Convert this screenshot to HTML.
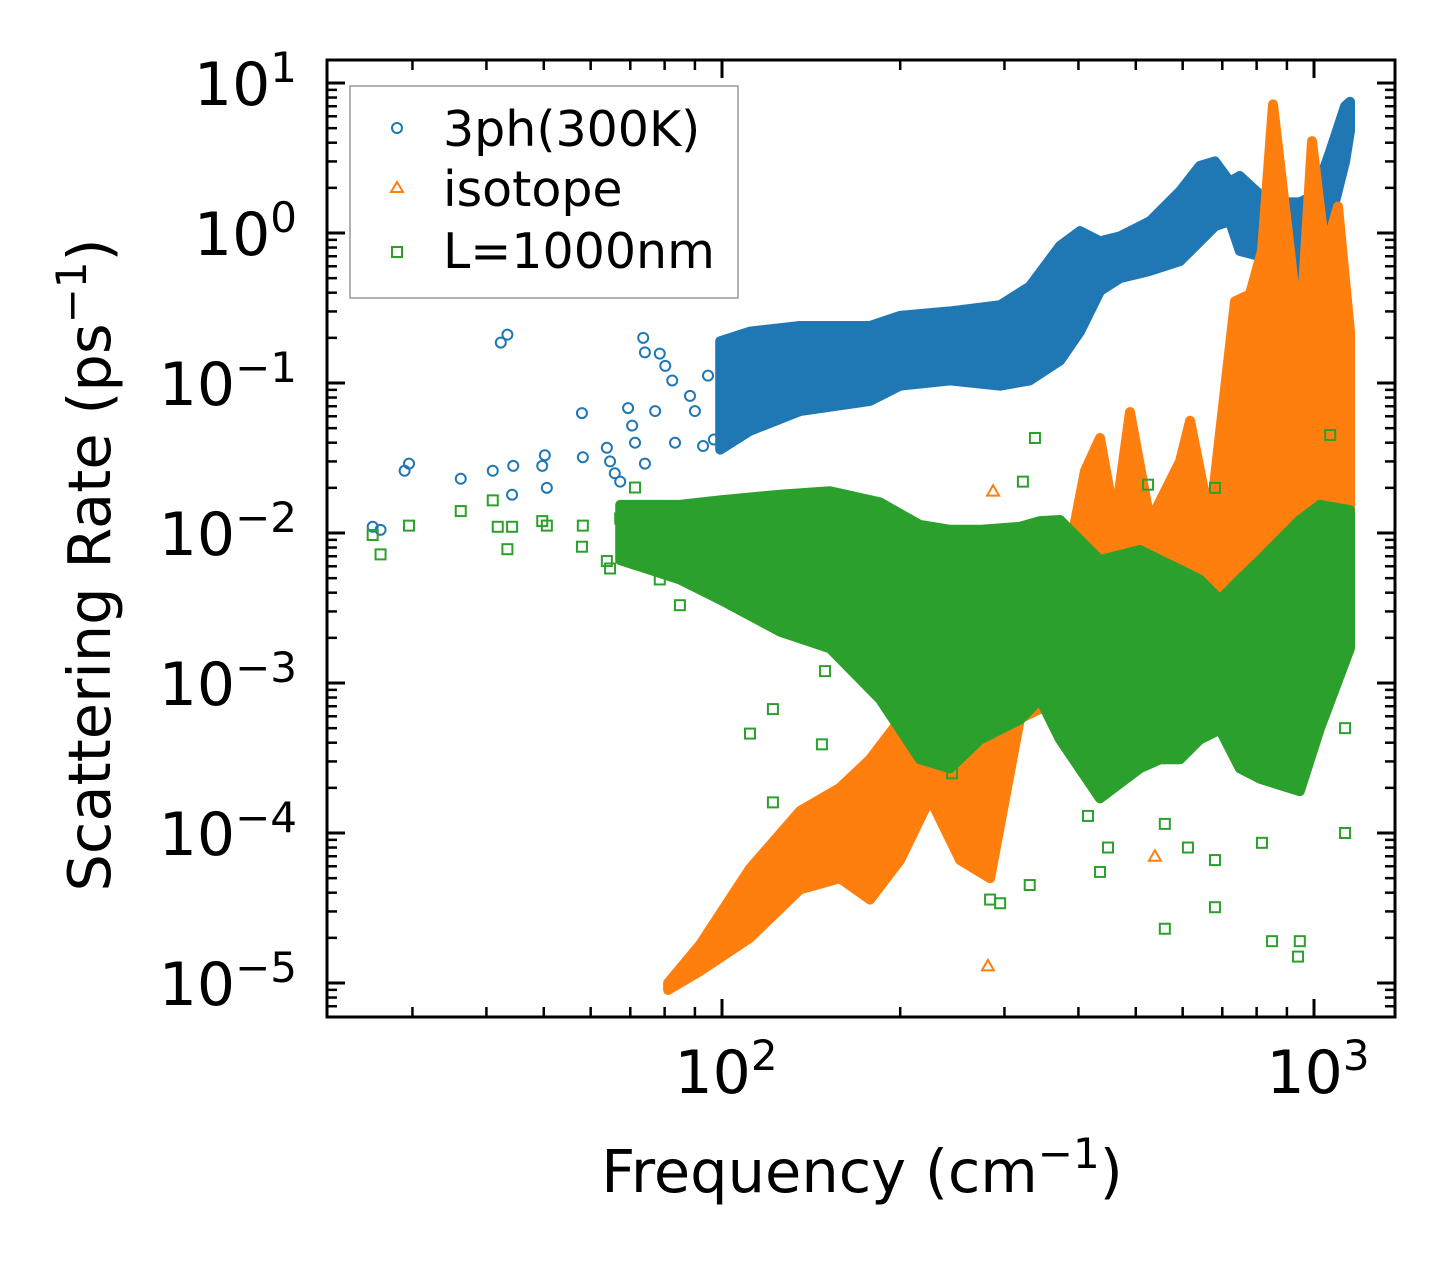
<!DOCTYPE html>
<html><head><meta charset="utf-8"><style>
html,body{margin:0;padding:0;background:#fff;}
svg{display:block;font-family:"DejaVu Sans","Liberation Sans",sans-serif;}
</style></head><body>
<svg id="chart" width="1455" height="1267" viewBox="0 0 1455 1267" xmlns="http://www.w3.org/2000/svg">
<rect x="0" y="0" width="1455" height="1267" fill="#fff"/>
<g id="marks"></g>
<g id="axes"></g>
<g id="legend">
<rect x="350" y="86" width="388" height="212" fill="#fff" fill-opacity="0.8" stroke="#999" stroke-width="1.5"/>
<circle cx="397" cy="128" r="5" fill="none" stroke="#1f77b4" stroke-width="2"/>
<text x="443" y="146" font-size="49">3ph(300K)</text>
<polygon points="397,182 403,192 391,192" fill="none" stroke="#ff7f0e" stroke-width="2"/>
<text x="443" y="206" font-size="49">isotope</text>
<rect x="392" y="247" width="10" height="10" fill="none" stroke="#2ca02c" stroke-width="2"/>
<text x="443" y="268" font-size="49">L=1000nm</text>
</g>
<text x="862" y="1192" font-size="59" text-anchor="middle">Frequency (cm<tspan font-size="42" dy="-24">−1</tspan><tspan dy="24">)</tspan></text>
<text transform="translate(110,565) rotate(-90)" font-size="59" text-anchor="middle">Scattering Rate (ps<tspan font-size="42" dy="-24">−1</tspan><tspan dy="24">)</tspan></text>
</svg>
<script>
// ---- data ----
const blueBandFreq = [99.3,111.5,135.4,177.8,199.9,242.8,295,331,372.4,402.4,435,470.3,528.6,593.7,641.7,680.3,720.8,749.3,810.7,877,946.3,1003,1065,1128.4,1150.1];
const blueBandLo   = [0.036,0.048,0.065,0.076,0.096,0.104,0.096,0.104,0.141,0.22,0.41,0.50,0.56,0.65,0.88,1.11,1.2,0.76,0.70,0.56,0.35,0.70,1.2,3.0,4.8];
const blueBandHi   = [0.19,0.22,0.24,0.24,0.28,0.30,0.33,0.44,0.82,1.03,0.88,0.95,1.2,1.9,2.8,3.0,2.2,2.4,1.8,1.6,1.6,1.8,3.5,7.0,7.5];
const bluePtFreq = [25.7,26.5,29.1,29.6,36.2,41.0,42.3,43.4,44.2,44.4,49.7,50.2,50.6,58.0,58.2,63.9,64.7,65.9,67.3,69.4,70.5,71.3,73.6,74.1,78.5,80.2,82.4,74.1,77.1,83.3,88.3,90.0,92.9,94.7,96.9];
const bluePtVal  = [0.011,0.0105,0.026,0.029,0.023,0.026,0.186,0.21,0.018,0.028,0.028,0.033,0.02,0.063,0.032,0.037,0.03,0.025,0.022,0.068,0.052,0.04,0.2,0.16,0.157,0.13,0.104,0.029,0.065,0.04,0.082,0.065,0.038,0.112,0.042];

const orangeBandFreq = [81.1,91.8,111.5,135.4,158.2,177.8,199.9,224.6,252.5,283.7,318.7,372.4,410.3,435,461.2,488.9,528.6,593.7,617.5,667.3,735.5,779.2,816.8,852.5,910.7,946.3,992.2,1044.3,1098,1150.1];
const orangeBandHi   = [1.0e-5,1.8e-5,5.8e-5,1.4e-4,2e-4,3.1e-4,5.7e-4,1.0e-3,1.9e-3,1.9e-3,2.6e-3,3.6e-3,0.026,0.043,0.012,0.064,0.012,0.03,0.056,0.012,0.35,0.39,0.76,7.2,0.76,0.19,4.1,0.76,1.5,0.22];
const orangeBandLo   = [9e-6,1.2e-5,2e-5,4.2e-5,5e-5,3.6e-5,6.6e-5,1.7e-4,6.6e-5,5e-5,5.8e-4,7.8e-4,1e-3,1e-3,1e-3,1e-3,1e-3,1e-3,1e-3,1e-3,1e-3,1e-3,2e-3,3.6e-3,2e-3,2e-3,3e-3,3e-3,3e-3,0.01];
const orangePtFreq = [287,281.3,538.6,1128.4,1128.4,1128.4];
const orangePtVal  = [0.019,1.3e-5,7e-5,0.096,0.14,0.26];

const greenBandFreq = [67.3,84.9,99.3,125.3,152.2,184.9,216,242.8,272.9,318.7,344.5,372.4,435,508.2,549.5,593.7,641.7,693.5,749.3,810.7,946.3,1023.5,1150.1];
const greenBandLo   = [0.0066,0.0049,0.0036,0.0022,0.0017,7.8e-4,3.1e-4,2.7e-4,4.2e-4,5.7e-4,7.8e-4,4.2e-4,1.7e-4,2.7e-4,3.1e-4,3.1e-4,4.2e-4,4.9e-4,2.7e-4,2.3e-4,1.9e-4,5e-4,0.0017];
const greenBandHi   = [0.0154,0.0154,0.0165,0.018,0.019,0.016,0.0113,0.0105,0.0105,0.011,0.012,0.0122,0.0066,0.0077,0.0066,0.0057,0.0049,0.0036,0.0049,0.0066,0.0122,0.0154,0.0142];
const greenPtFreq = [25.7,26.5,29.6,36.2,41.0,41.8,43.4,44.2,49.7,50.6,58.0,58.2,63.9,64.7,67.3,71.3,78.5,80.2,84.9,111.5,121.9,121.9,147.5,149.3,244.7,283.7,295,331,337.8,415.2,435,448.8,559.8,559.8,612.4,680.3,680.3,816.8,849.5,939.6,946.3,1128.4,1128.4,1065,680.3,322.3,524.4];
const greenPtVal  = [0.0097,0.0072,0.0112,0.014,0.0165,0.011,0.0078,0.011,0.012,0.0112,0.0081,0.0112,0.0065,0.0058,0.0125,0.0201,0.0049,0.0055,0.0033,4.6e-4,6.7e-4,1.6e-4,3.9e-4,1.2e-3,2.5e-4,3.6e-5,3.4e-5,4.5e-5,0.043,1.3e-4,5.5e-5,8e-5,2.3e-5,1.15e-4,8e-5,6.6e-5,3.2e-5,8.6e-5,1.9e-5,1.5e-5,1.9e-5,1e-4,5e-4,0.045,0.02,0.022,0.021];

const xTickVals = [100,1000];
const xTickLabels = ["2","3"];
const yTickVals = [1e1,1e0,1e-1,1e-2,1e-3,1e-4,1e-5];
const yTickLabels = ["1","0","−1","−2","−3","−4","−5"];

// ---- scales ----
const PL=327, PR=1395, PT=60, PB=1017;
const X2=722, DX=592, Y0=233, DY=150;
function xs(f){return X2+(Math.log10(f)-2)*DX;}
function ys(v){return Y0-Math.log10(v)*DY;}
const NS="http://www.w3.org/2000/svg";
const marks=document.getElementById('marks');
const axes=document.getElementById('axes');
function mk(tag,attrs,parent){const e=document.createElementNS(NS,tag);for(const k in attrs)e.setAttribute(k,attrs[k]);parent.appendChild(e);return e;}

const clip=mk('clipPath',{id:'pc'},marks);
mk('rect',{x:PL,y:PT,width:PR-PL,height:PB-PT},clip);
marks.setAttribute('clip-path','url(#pc)');

function band(fr,lo,hi,color,name){
  let pts=[];
  for(let i=0;i<fr.length;i++)pts.push(xs(fr[i]).toFixed(1)+','+ys(hi[i]).toFixed(1));
  for(let i=fr.length-1;i>=0;i--)pts.push(xs(fr[i]).toFixed(1)+','+ys(lo[i]).toFixed(1));
  const p=mk('polygon',{points:pts.join(' '),fill:color,stroke:color,'stroke-width':'10','stroke-linejoin':'round'},marks);
  
  
}
function marker(type,f,v,color,name){
  const x=xs(f),y=ys(v);let e;
  if(type==='o')e=mk('circle',{cx:x,cy:y,r:5,fill:'none',stroke:color,'stroke-width':2},marks);
  else if(type==='^')e=mk('polygon',{points:`${x},${y-6} ${x+6},${y+4.5} ${x-6},${y+4.5}`,fill:'none',stroke:color,'stroke-width':2},marks);
  else e=mk('rect',{x:x-5,y:y-5,width:10,height:10,fill:'none',stroke:color,'stroke-width':2},marks);
  
  
}
const CB='#1f77b4',CO='#ff7f0e',CG='#2ca02c';
band(blueBandFreq,blueBandLo,blueBandHi,CB,'3ph-dense-band');
for(let i=0;i<bluePtFreq.length;i++)marker('o',bluePtFreq[i],bluePtVal[i],CB,'3ph-point');
band(orangeBandFreq,orangeBandLo,orangeBandHi,CO,'isotope-dense-band');
for(let i=0;i<orangePtFreq.length;i++)marker('^',orangePtFreq[i],orangePtVal[i],CO,'isotope-point');
band(greenBandFreq,greenBandLo,greenBandHi,CG,'boundary-dense-band');
for(let i=0;i<greenPtFreq.length;i++)marker('s',greenPtFreq[i],greenPtVal[i],CG,'boundary-point');

// ---- axes ----
const frame=mk('rect',{x:PL,y:PT,width:PR-PL,height:PB-PT,fill:'none',stroke:'#000','stroke-width':3},axes);


function tick(x1,y1,x2,y2,w){mk('line',{x1,y1,x2,y2,stroke:'#000','stroke-width':w},axes);}
for(let d=1;d<=3;d++){for(let m=1;m<=9;m++){const f=m*Math.pow(10,d);const x=xs(f);if(x<=PL+1||x>=PR-1)continue;
  const L=(m===1)?18:10,w=(m===1)?3:2.5;tick(x,PB,x,PB-L,w);tick(x,PT,x,PT+L,w);}}
for(let i=0;i<xTickVals.length;i++){const x=xs(xTickVals[i]);
  const t=mk('text',{x:x+4,y:1093,'font-size':60,'text-anchor':'middle'},axes);
  
  
  t.innerHTML='10<tspan font-size="42" dy="-23">'+xTickLabels[i]+'</tspan>';}
for(let d=-6;d<=1;d++){for(let m=1;m<=9;m++){const v=m*Math.pow(10,d);const y=ys(v);if(y<=PT+1||y>=PB-1)continue;
  const L=(m===1)?18:10,w=(m===1)?3:2.5;tick(PL,y,PL+L,y,w);tick(PR,y,PR-L,y,w);}}
for(let i=0;i<yTickVals.length;i++){const y=ys(yTickVals[i]);
  const t=mk('text',{x:297,y:y+22,'font-size':60,'text-anchor':'end'},axes);
  
  
  t.innerHTML='10<tspan font-size="42" dy="-23">'+yTickLabels[i]+'</tspan>';}
</script>
</body></html>
